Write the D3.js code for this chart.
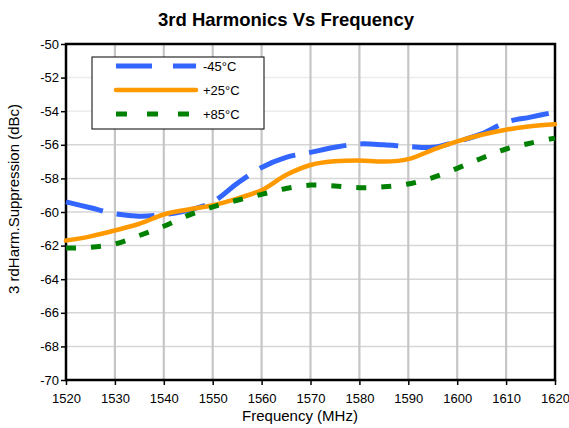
<!DOCTYPE html>
<html>
<head>
<meta charset="utf-8">
<style>
    html, body { margin: 0; padding: 0; background: #fff; }
    svg { display: block; font-family: "Liberation Sans", Arial, sans-serif; }
    .tick text { fill: #000; }
</style>
</head>
<body>
<svg width="569" height="428"></svg>
<script src="https://d3js.org/d3.v7.min.js"></script>
<script>

    // frequency (MHz)
    var freq = [1520, 1525, 1530, 1535, 1540, 1545, 1550, 1555, 1560, 1565, 1570,
                1575, 1580, 1585, 1590, 1595, 1600, 1605, 1610, 1615, 1620];

    // 3rd harmonic suppression (dBc)
    var m45 = [-59.4, -59.75, -60.1, -60.25, -60.15, -59.9, -59.4, -58.3, -57.35, -56.75, -56.45,
               -56.15, -55.95, -56.0, -56.1, -56.15, -55.8, -55.35, -54.65, -54.35, -54.05];
    var p25 = [-61.7, -61.45, -61.1, -60.7, -60.15, -59.85, -59.6, -59.2, -58.7, -57.8, -57.2,
               -56.98, -56.93, -57.0, -56.85, -56.3, -55.8, -55.4, -55.1, -54.9, -54.78];
    var p85 = [-62.15, -62.1, -61.9, -61.4, -60.85, -60.2, -59.7, -59.3, -58.95, -58.6, -58.4,
               -58.45, -58.55, -58.5, -58.33, -57.95, -57.4, -56.8, -56.25, -55.9, -55.6];

    var xTicks = [1520, 1530, 1540, 1550, 1560, 1570, 1580, 1590, 1600, 1610, 1620];
    var yTicks = [-70, -68, -66, -64, -62, -60, -58, -56, -54, -52, -50];
    var seriesNames = ["-45\u00B0C", "+25\u00B0C", "+85\u00B0C"];

    var svg = d3.select("svg"),
        margin = {top: 44, right: 14, bottom: 48, left: 66},
        width = 569 - margin.left - margin.right,
        height = 428 - margin.top - margin.bottom,
        g = svg.append("g").attr("transform", "translate(" + margin.left + "," + margin.top + ")");

    var x = d3.scaleLinear().domain([1520, 1620]).range([0, width]);
    var y = d3.scaleLinear().domain([-70, -50]).range([height, 0]);

    // plain hyphen minus like the original
    var fmt = function(d) { return String(d); };

    // grid
    g.append("g").selectAll("line")
        .data(yTicks.slice(1, -1))
        .enter().append("line")
        .attr("x1", 0).attr("x2", width)
        .attr("y1", function(d) { return y(d); })
        .attr("y2", function(d) { return y(d); })
        .attr("stroke", function(d) { return d > -55 ? "#ececec" : "#d6d6d6"; })
        .attr("stroke-width", 1.5);

    g.append("g").selectAll("line")
        .data(xTicks.slice(1, -1))
        .enter().append("line")
        .attr("y1", 0).attr("y2", height)
        .attr("x1", function(d) { return x(d); })
        .attr("x2", function(d) { return x(d); })
        .attr("stroke", "#c6c6c6")
        .attr("stroke-width", 2.2);

    // axes
    var aixB = g.append("g")
        .attr("transform", "translate(0," + height + ")")
        .call(d3.axisBottom(x).tickValues(xTicks).tickFormat(fmt).tickSize(5).tickPadding(9));
    aixB.selectAll("text").style("font-size", "13px");
    aixB.select(".domain").remove();
    aixB.selectAll("line").attr("stroke", "#000").attr("stroke-width", 1.5);

    var aixL = g.append("g")
        .call(d3.axisLeft(y).tickValues(yTicks).tickFormat(fmt).tickSize(5).tickPadding(2));
    aixL.selectAll("text").style("font-size", "13px");
    aixL.select(".domain").remove();
    aixL.selectAll("line").attr("stroke", "#000").attr("stroke-width", 1.5);

    // frame
    g.append("rect")
        .attr("width", width).attr("height", height)
        .attr("fill", "none")
        .attr("stroke", "#000")
        .attr("stroke-width", 2.5);

    var line = d3.line()
        .x(function(d, i) { return x(freq[i]); })
        .y(function(d) { return y(d); })
        .curve(d3.curveCatmullRom.alpha(0.5));

    var styles = [
        {color: "#3366ff", dash: "38,14", w: 5, legendDash: "36,21"},
        {color: "#ff9900", dash: null, w: 4.5, legendDash: null},
        {color: "#008000", dash: "10,15", w: 5, legendDash: "11,20"}
    ];
    var series = [m45, p25, p85];

    g.append("g").selectAll("path")
        .data(series)
        .enter().append("path")
        .attr("fill", "none")
        .attr("stroke", function(d, i) { return styles[i].color; })
        .attr("stroke-width", function(d, i) { return styles[i].w; })
        .attr("stroke-dasharray", function(d, i) { return styles[i].dash; })
        .attr("stroke-linecap", function(d, i) { return i == 1 ? "round" : "butt"; })
        .attr("stroke-linejoin", "round")
        .attr("d", line);

    // legend
    var leg = svg.append("g").attr("transform", "translate(92,57)");
    leg.append("rect")
        .attr("width", 172).attr("height", 72)
        .attr("fill", "#fff")
        .attr("stroke", "#000")
        .attr("stroke-width", 1);
    var items = leg.selectAll(".item")
        .data(seriesNames)
        .enter().append("g")
        .attr("class", "item")
        .attr("transform", function(d, i) { return "translate(0," + (9 + i * 24) + ")"; });
    items.append("line")
        .attr("x1", 24).attr("x2", 104)
        .attr("stroke", function(d, i) { return styles[i].color; })
        .attr("stroke-width", function(d, i) { return styles[i].w; })
        .attr("stroke-dasharray", function(d, i) { return styles[i].legendDash; })
        .attr("stroke-linecap", function(d, i) { return i == 1 ? "round" : "butt"; });
    items.append("text")
        .attr("x", 111).attr("y", 5)
        .style("font-size", "13px")
        .text(function(d) { return d; });

    // titles
    svg.append("text")
        .attr("x", 286).attr("y", 26)
        .attr("text-anchor", "middle")
        .style("font-size", "18.5px")
        .style("font-weight", "bold")
        .text("3rd Harmonics Vs Frequency");

    svg.append("text")
        .attr("x", 300).attr("y", 421)
        .attr("text-anchor", "middle")
        .style("font-size", "15px")
        .text("Frequency (MHz)");

    svg.append("text")
        .attr("transform", "translate(19,199) rotate(-90)")
        .attr("text-anchor", "middle")
        .style("font-size", "15px")
        .text("3 rdHarm.Suppression (dBc)");

</script>
</body>
</html>
